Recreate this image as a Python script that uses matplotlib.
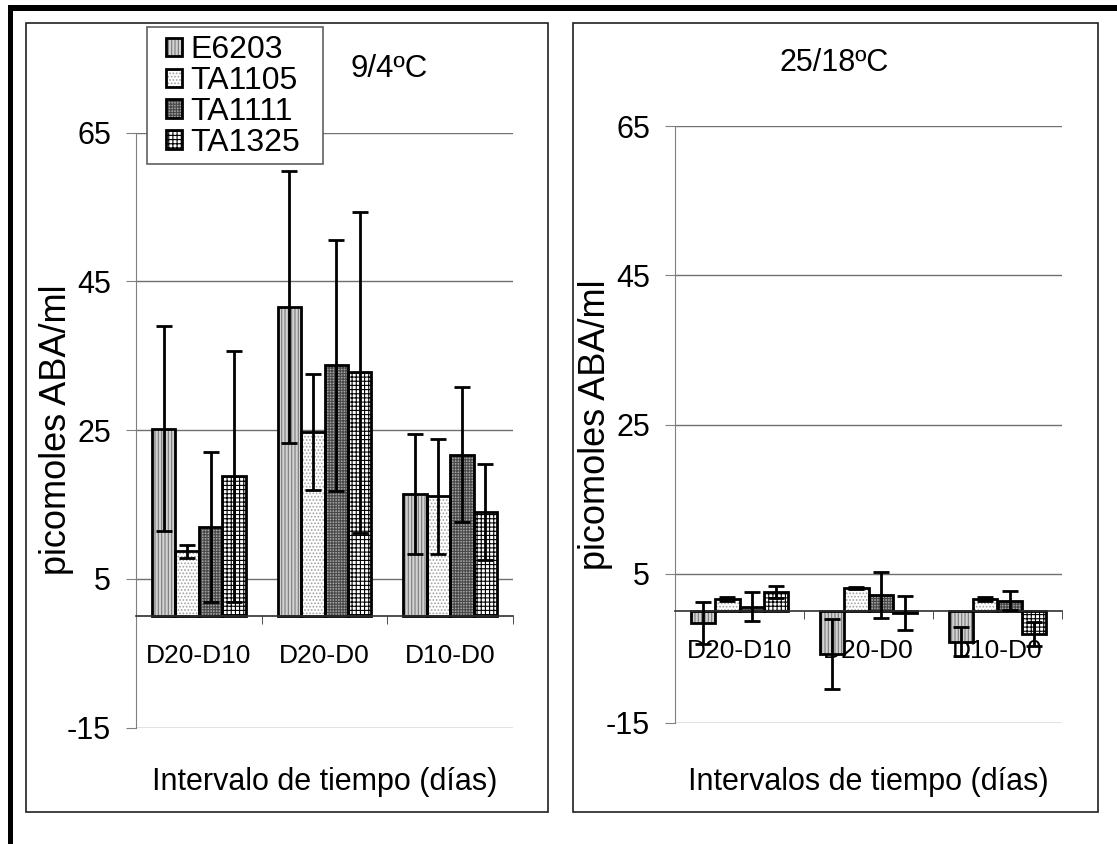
import matplotlib
matplotlib.use('Agg')
import numpy as np
from matplotlib import pyplot as plt
from matplotlib.patches import Rectangle, Patch

plt.rcParams['font.family'] = ['Liberation Sans', 'DejaVu Sans']
plt.rcParams['hatch.linewidth'] = 0.8
plt.rcParams['axes.unicode_minus'] = False

# data
categories = ['D20-D10', 'D20-D0', 'D10-D0']
series = ['E6203', 'TA1105', 'TA1111', 'TA1325']

cold_vals = [[25.2, 41.6, 16.4],
             [8.7, 24.8, 16.1],
             [12.0, 33.7, 21.7],
             [18.8, 32.8, 14.0]]
cold_err = [[13.8, 18.3, 8.1],
            [0.85, 7.8, 7.7],
            [10.1, 16.9, 9.1],
            [16.9, 21.6, 6.5]]

warm_vals = [[-1.6, -5.7, -4.1],
             [1.6, 3.1, 1.6],
             [0.6, 2.2, 1.4],
             [2.6, -0.3, -3.1]]
warm_err = [[2.8, 4.7, 1.9],
            [0.3, 0.1, 0.3],
            [1.9, 3.1, 1.3],
            [0.8, 2.3, 1.6]]

yticks = [-15, 5, 25, 45, 65]

# fill / hatch per series
faces = ['#d2d2d2', '#ffffff', '#a4a4a4', '#ffffff']
hatch_cols = ['#7a7a7a', '#a0a0a0', '#484848', '#000000']
hatches = ['|||||', '.....', '++++++', '++++']

W, H = 1117, 844
fig = plt.figure(figsize=(W / 100, H / 100), dpi=100)

# outer thick frame (top and left only)
fig.patches.append(Rectangle((8 / W, 0), 5 / W, 1 - 5 / H, transform=fig.transFigure,
                             color='black', lw=0))
fig.patches.append(Rectangle((8 / W, 1 - 11 / H), 1 - 8 / W, 6 / H, transform=fig.transFigure,
                             color='black', lw=0))
# panel boxes
for x0, x1 in [(26, 548), (573, 1098)]:
    fig.patches.append(Rectangle((x0 / W, 1 - 812 / H), (x1 - x0) / W, (812 - 23) / H,
                                 transform=fig.transFigure, fill=False,
                                 edgecolor='#202020', lw=1.2))

ax1 = fig.add_axes([136 / W, 1 - 727.7 / H, 377 / W, 595 / H])
ax2 = fig.add_axes([675 / W, 1 - 723 / H, 387 / W, 597 / H])

bw = 0.187
x = np.arange(len(categories))


def draw(ax, vals, errs, xlabel):
    ax.set_facecolor('none')
    for i in range(len(series)):
        pos = x + (i - 1.5) * bw
        ax.bar(pos, vals[i], bw, color=faces[i], edgecolor=hatch_cols[i],
               hatch=hatches[i], linewidth=0, zorder=2)
        ax.bar(pos, vals[i], bw, fill=False, edgecolor='black', linewidth=2.0, zorder=3)
    for i in range(len(series)):
        pos = x + (i - 1.5) * bw
        ax.errorbar(pos, vals[i], yerr=errs[i], fmt='none', ecolor='black',
                    elinewidth=2.0, capsize=5.5, capthick=2.0, zorder=4)
    ax.set_ylim(-15, 65)
    ax.set_xlim(-0.5, 2.5)
    ax.set_yticks(yticks)
    ax.yaxis.grid(True, color='#707070', lw=1)
    ax.set_axisbelow(True)
    for s in ['top', 'right']:
        ax.spines[s].set_visible(False)
    ax.spines['left'].set_color('#808080')
    ax.spines['bottom'].set_position(('data', 0))
    ax.spines['bottom'].set_color('#303030')
    ax.spines['bottom'].set_linewidth(1.2)
    ax.spines['bottom'].set_zorder(3.5)
    ax.tick_params(axis='y', direction='out', length=7, color='#808080',
                   labelsize=22, pad=11)
    ax.set_xticks(x)
    ax.set_xticklabels(categories)
    ax.set_xticks([-0.5, 0.5, 1.5, 2.5], minor=True)
    ax.tick_params(axis='x', which='major', length=0, pad=20, labelsize=19)
    ax.tick_params(axis='x', which='minor', length=6, direction='out', color='#303030')
    ax.set_ylabel('picomoles ABA/ml', fontsize=26)
    ax.set_xlabel(xlabel, fontsize=22)


draw(ax1, cold_vals, cold_err, 'Intervalo de tiempo (días)')
draw(ax2, warm_vals, warm_err, 'Intervalos de tiempo (días)')
ax1.yaxis.set_label_coords(-62 / 377, 0.5)
ax2.yaxis.set_label_coords(-62 / 387, 0.5)
ax1.xaxis.set_label_coords(0.5, -39 / 595)
ax2.xaxis.set_label_coords(0.5, -44 / 597)

fig.text(350 / W, 1 - 69 / H, '9/4ºC', fontsize=22.5, va='center', ha='left')
fig.text(834 / W, 1 - 63 / H, '25/18ºC', fontsize=22, va='center', ha='center')

# legend frame drawn by hand so its size matches
fig.patches.append(Rectangle((147 / W, 1 - 164 / H), (323 - 147) / W, (164 - 27) / H,
                             transform=fig.transFigure, facecolor='white',
                             edgecolor='#606060', lw=1.2, zorder=4.5))
handles = []
for i in range(len(series)):
    handles.append((Patch(facecolor=faces[i], edgecolor=hatch_cols[i], hatch=hatches[i], lw=0),
                    Patch(fill=False, edgecolor='black', lw=2.0)))
leg = fig.legend(handles, series, loc='upper left', bbox_to_anchor=(166 / W, 1 - 35 / H),
                 fontsize=23, frameon=False,
                 handlelength=0.5, handleheight=0.5, handletextpad=0.25,
                 labelspacing=0.03, borderpad=0, borderaxespad=0)
leg.set_zorder(5)

fig.savefig('out.png', dpi=100)
